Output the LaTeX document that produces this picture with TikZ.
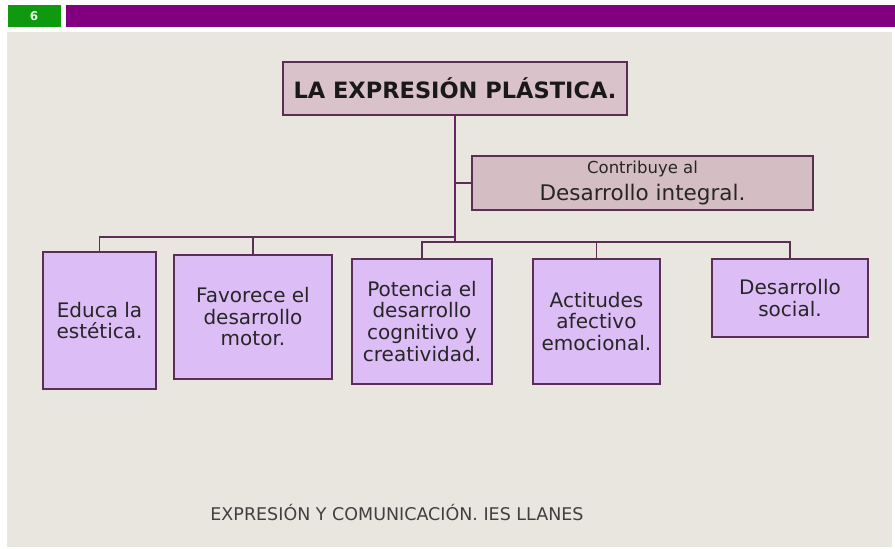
\documentclass[tikz,border=0pt]{standalone}
\usepackage{fontspec}
\setmainfont{DejaVu Sans}
\usepackage{tikz}
\usetikzlibrary{positioning, calc}

\definecolor{slidebg}{HTML}{E9E5DF}
\definecolor{tabgreen}{HTML}{0E990E}
\definecolor{barpurple}{HTML}{800080}
\definecolor{titlefill}{HTML}{D9C2C9}
\definecolor{contribfill}{HTML}{D5BEC3}
\definecolor{edgeplum}{HTML}{5A2E55}
\definecolor{boxlilac}{HTML}{DDBDF6}
\definecolor{linkplum}{HTML}{6A2466}

\begin{document}
\begin{tikzpicture}[x=1pt, y=-1pt,
        titlebox/.style = {rectangle, draw = edgeplum, line width = 1.6pt, fill = titlefill, inner sep = 0pt},
        idea/.style = {rectangle, draw = edgeplum, line width = 1.6pt, fill = boxlilac, inner sep = 0pt, align = center,
            font = \fontsize{20}{21.7}\selectfont, text = black!85},
        trunkline/.style = {draw = linkplum, line width = 2.6pt},
        branch/.style = {draw = edgeplum, line width = 1.6pt}]
        \useasboundingbox (0,0) rectangle (895,549);

        % slide background and header
        \fill[white] (0,0) rectangle (895,549);
        \fill[slidebg] (7,32) rectangle (892,547);
        \node(tab) [rectangle, fill = tabgreen, minimum width = 53pt, minimum height = 22pt, inner sep = 0pt,
            text = white!92!green, font = \fontsize{12}{14}\selectfont\bfseries] at (34,16) {6};
        \fill[barpurple] (66,5) rectangle (895,27);

        % title and contribution box
        \node(title) [titlebox, minimum width = 344pt, minimum height = 53pt,
            font = \fontsize{22.5}{26}\selectfont\bfseries, text = black!90] at (455,88.5) {LA EXPRESIÓN PLÁSTICA.};
        \node(contrib) [titlebox, fill = contribfill, minimum width = 341pt, minimum height = 54pt, align = center,
            text = black!85] at (642.5,183)
            {{\fontsize{16.5}{18}\selectfont Contribuye al}\\[7pt]{\fontsize{21.5}{24}\selectfont Desarrollo integral.}};

        % the five ideas
        \node(educa) [idea, minimum width = 113pt, minimum height = 137pt] at (99.5,320.5) {Educa la\\estética.};
        \node(motor) [idea, minimum width = 158pt, minimum height = 124pt, anchor = north] at (253,254)
            {Favorece el\\desarrollo\\motor.};
        \node(cogni) [idea, minimum width = 140pt, minimum height = 125pt, anchor = north] at (422,258)
            {Potencia el\\desarrollo\\cognitivo y\\creatividad.};
        \node(afect) [idea, minimum width = 127pt, minimum height = 125pt, anchor = north] at (596.5,258)
            {Actitudes\\afectivo\\emocional.};
        \node(social) [idea, minimum width = 156pt, minimum height = 78pt, anchor = north] at (790,258)
            {Desarrollo\\social.};

        % connectors
        \coordinate(busleft) at (title.south |- 0,237);
        \coordinate(busright) at (title.south |- 0,242);
        \draw[trunkline] (title.south) -- (busright);
        \draw[branch] (title.south |- contrib.west) -- (contrib.west);
        \draw[branch] (busleft) -| (educa.north);
        \draw[branch] (busleft) -| (motor.north);
        \draw[branch] (busright) -| (cogni.north);
        \draw[branch] (busright) -| (afect.north);
        \draw[branch] (busright) -| (social.north);

        % footer
        \node(foot) [font = \fontsize{17.5}{20}\selectfont, text = black!75] at (397,513)
            {EXPRESIÓN Y COMUNICACIÓN. IES LLANES};
    \end{tikzpicture}
\end{document}
